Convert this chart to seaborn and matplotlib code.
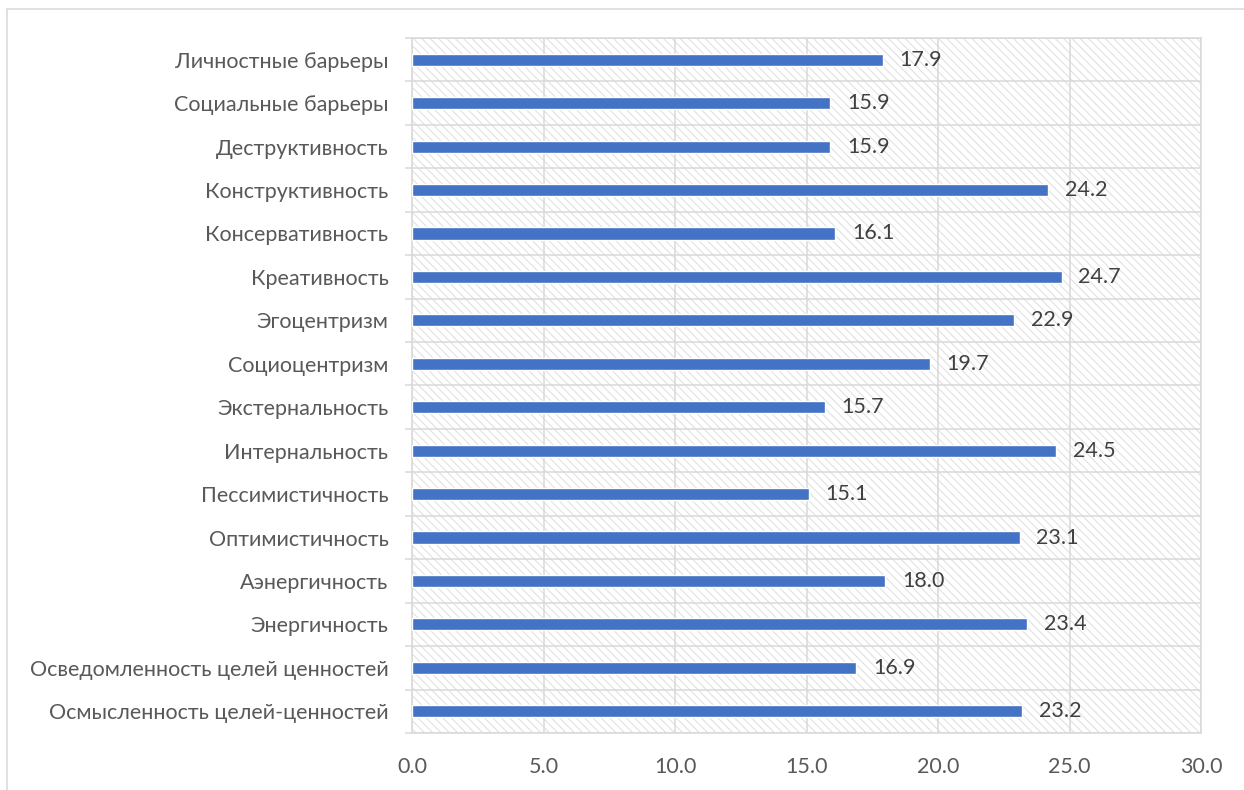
import matplotlib
matplotlib.use("Agg")
import matplotlib.pyplot as plt
from matplotlib.patches import Rectangle
from matplotlib.lines import Line2D
import seaborn as sns
import pandas as pd
import numpy as np

categories = [
    "Личностные барьеры",
    "Социальные барьеры",
    "Деструктивность",
    "Конструктивность",
    "Консервативность",
    "Креативность",
    "Эгоцентризм",
    "Социоцентризм",
    "Экстернальность",
    "Интернальность",
    "Пессимистичность",
    "Оптимистичность",
    "Аэнергичность",
    "Энергичность",
    "Осведомленность целей ценностей",
    "Осмысленность целей-ценностей",
]
values = [17.9, 15.9, 15.9, 24.2, 16.1, 24.7, 22.9, 19.7,
          15.7, 24.5, 15.1, 23.1, 18.0, 23.4, 16.9, 23.2]
x_ticks = [0, 5, 10, 15, 20, 25, 30]

df = pd.DataFrame({"category": categories, "value": values})

sns.set_theme(style="white")
plt.rcParams["font.family"] = ["Lato", "DejaVu Sans"]
plt.rcParams["hatch.linewidth"] = 0.7

grid_c = "#d9d9d9"
text_c = "#595959"
bar_c = "#4472C4"
fs = 15.5

fig = plt.figure(figsize=(12.44, 7.90), dpi=100)
ax = fig.add_axes([412 / 1244, 1 - 733 / 790, (1201 - 412) / 1244, (733 - 38) / 790])

# hatched plot-area background
ax.add_patch(Rectangle((0, 0), 1, 1, transform=ax.transAxes, facecolor="white",
                       edgecolor="#dedede", hatch="\\\\\\\\", linewidth=0, zorder=0))

sns.barplot(data=df, x="value", y="category", orient="h", color=bar_c,
            width=0.28, saturation=1, ax=ax, zorder=3)

n = len(categories)
ax.set_xlim(0, 30)
ax.set_ylim(n - 0.5, -0.5)
ax.set_xticks(x_ticks)
ax.set_xticklabels([f"{t:.1f}" for t in x_ticks])
ax.set_xlabel("")
ax.set_ylabel("")

# gridlines between categories and at each x tick
ax.set_yticks(np.arange(-0.5, n, 1), minor=True)
ax.grid(False)
for b in np.arange(-0.5, n, 1):
    ax.axhline(b, color=grid_c, lw=1.1, zorder=1)
for t in x_ticks:
    ax.axvline(t, color=grid_c, lw=1.1, zorder=1)

ax.tick_params(axis="y", which="major", length=0, pad=17, labelsize=fs, labelcolor=text_c)
ax.tick_params(axis="y", which="minor", length=5, width=1.1, color=grid_c, left=True)
ax.tick_params(axis="x", which="major", length=0, pad=17, labelsize=fs, labelcolor=text_c)

for s in ax.spines.values():
    s.set_color(grid_c)
    s.set_linewidth(1.1)
    s.set_visible(True)

for i, v in enumerate(values):
    ax.annotate(f"{v:.1f}", xy=(v, i), xytext=(12, 0), textcoords="offset points",
                ha="left", va="center", fontsize=fs, color="#404040", zorder=4)

# outer chart frame
fig.add_artist(Line2D([7 / 1244, 1], [1 - 9 / 790, 1 - 9 / 790], color=grid_c, lw=1.1,
                      transform=fig.transFigure))
fig.add_artist(Line2D([7 / 1244, 7 / 1244], [0, 1 - 9 / 790], color=grid_c, lw=1.1,
                      transform=fig.transFigure))

fig.savefig("out.png", dpi=100)
